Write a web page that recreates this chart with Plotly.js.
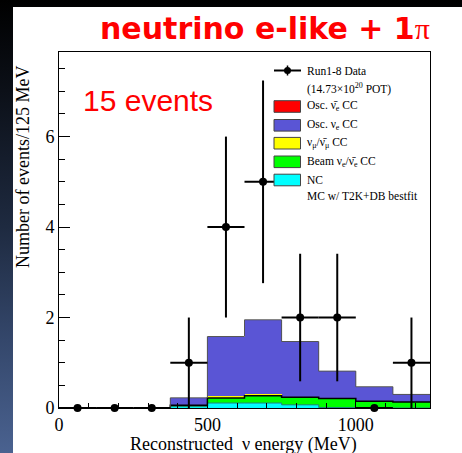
<!DOCTYPE html>
<html><head><meta charset="utf-8">
<script src="https://cdn.plot.ly/plotly-3.0.1.min.js"></script>
<style>
html,body{margin:0;padding:0;background:#000;}
#wrap{position:relative;width:462px;height:453px;overflow:hidden;
  background:linear-gradient(to bottom,#000 0%,#0c1018 20%,#1e2a40 50%,#34476b 75%,#4a6290 100%);}
#white{position:absolute;left:13px;top:7px;right:0;bottom:0;background:#fff;}
#chart{position:absolute;left:0;top:0;width:462px;height:453px;}
</style></head>
<body><div id="wrap"><div id="white"></div><div id="chart"></div></div>
<script>
// ---- data ----
const binCenters = [437.5, 562.5, 687.5, 812.5, 937.5, 1062.5, 1187.5];
const binEdges = [375, 500, 625, 750, 875, 1000, 1125, 1250];
const ncVals = [0.03, 0.11, 0.11, 0.07, 0.01, 0.0, 0.0];
const beamVals = [0.03, 0.11, 0.16, 0.17, 0.20, 0.15, 0.13];
const numuVals = [0.0, 0.05, 0.03, 0.01, 0.0, 0.0, 0.0];
const oscNueVals = [0.16, 1.30, 1.64, 1.21, 0.60, 0.32, 0.17];
const oscNuebarVals = [0.005, 0.01, 0.01, 0.01, 0.005, 0.0, 0.0];

const dataX = [62.5, 187.5, 312.5, 437.5, 562.5, 687.5, 812.5, 937.5, 1062.5, 1187.5];
const dataY = [0, 0, 0, 1, 4, 5, 2, 2, 0, 1];
const dataErr = [0, 0, 0, 1, 2, 2.24, 1.41, 1.41, 0, 1];

const xTickVals = [0, 500, 1000];
const yTickVals = [0, 2, 4, 6];

const legendLabels = [
  "Run1-8 Data",
  "(14.73×10<sup>20</sup> POT)",
  "Osc. ν̄<sub>e</sub> CC",
  "Osc. ν<sub>e</sub> CC",
  "ν<sub>μ</sub>/ν̄<sub>μ</sub> CC",
  "Beam ν<sub>e</sub>/ν̄<sub>e</sub> CC",
  "NC",
  "MC w/ T2K+DB bestfit"
];
const legendColors = [null, null, "#ff0000", "#5a55d5", "#ffff00", "#00ff00", "#00ffff", null];

// ---- build ----
const colNC = "#00ffff", colBeam = "#00ff00", colNumu = "#ffff00", colNue = "#5a55d5", colNuebar = "#ff0000";
const widths = binCenters.map(() => 125);
function barTrace(vals, color) {
  return {type: "bar", x: binCenters, y: vals, width: widths, marker: {color: color, line: {width: 0}},
          showlegend: false, hoverinfo: "skip"};
}
const traces = [
  barTrace(ncVals, colNC),
  barTrace(beamVals, colBeam),
  barTrace(numuVals, colNumu),
  barTrace(oscNueVals, colNue),
  barTrace(oscNuebarVals, colNuebar)
];
function cum(arrs) { return binCenters.map((_, i) => arrs.reduce((s, a) => s + a[i], 0)); }
function stepTrace(vals, color, w) {
  const xs = [binEdges[0]].concat(binEdges);
  const ys = [0].concat(vals).concat([vals[vals.length - 1]]);
  return {type: "scatter", mode: "lines", x: xs, y: ys, line: {shape: "hv", color: color, width: w},
          showlegend: false, hoverinfo: "skip"};
}
traces.push(stepTrace(cum([ncVals]), "#208080", 1));
traces.push(stepTrace(cum([ncVals, beamVals]), "#000000", 1.5));
traces.push(stepTrace(cum([ncVals, beamVals, numuVals, oscNueVals, oscNuebarVals]), "#555555", 1));
traces.push({
  type: "scatter", mode: "markers", x: dataX, y: dataY,
  marker: {color: "#000", size: 8},
  error_y: {type: "data", array: dataErr, color: "#000", thickness: 2, width: 0},
  error_x: {type: "constant", value: 62.5, color: "#000", thickness: 2, width: 0},
  showlegend: false, hoverinfo: "skip", cliponaxis: false
});

// pixel -> paper helpers
const L = 59, R = 430, B = 408, T = 52;
const pxX = x => (x - L) / (R - L);
const pxY = y => (B - y) / (B - T);

const serif = "Liberation Serif, Times New Roman, serif";
const annotations = [];
const shapes = [];
const legRows = [70.5, 88, 106.5, 125.3, 143.2, 161.8, 180, 196];
legendLabels.forEach((lab, i) => {
  annotations.push({xref: "paper", yref: "paper", x: pxX(305), y: pxY(legRows[i]), xanchor: "left", yanchor: "middle",
    text: lab, showarrow: false, font: {family: serif, size: 11.5, color: "#000"}});
  if (legendColors[i]) {
    shapes.push({type: "rect", xref: "paper", yref: "paper", x0: pxX(274), x1: pxX(300.5),
      y0: pxY(legRows[i] - 5.8), y1: pxY(legRows[i] + 5.8), fillcolor: legendColors[i],
      line: {color: "#444", width: 1}});
  }
});
// data legend symbol
shapes.push({type: "line", xref: "paper", yref: "paper", x0: pxX(274), x1: pxX(301), y0: pxY(legRows[0]), y1: pxY(legRows[0]),
  line: {color: "#000", width: 2}});
shapes.push({type: "line", xref: "paper", yref: "paper", x0: pxX(287.5), x1: pxX(287.5), y0: pxY(legRows[0] - 5), y1: pxY(legRows[0] + 5),
  line: {color: "#000", width: 1.5}});
shapes.push({type: "circle", xref: "paper", yref: "paper", x0: pxX(284), x1: pxX(291), y0: pxY(legRows[0] - 3.5), y1: pxY(legRows[0] + 3.5),
  fillcolor: "#000", line: {color: "#000", width: 0}});

// titles
annotations.push({xref: "paper", yref: "paper", x: pxX(265), y: pxY(29), xanchor: "center", yanchor: "middle",
  text: 'neutrino e-like + 1<span style="font-family:Liberation Serif;font-weight:normal">π</span>',
  showarrow: false, font: {family: "DejaVu Sans, Arial, sans-serif", size: 30, color: "#ff0000", weight: "bold"}});
annotations.push({xref: "paper", yref: "paper", x: pxX(81), y: pxY(100), xanchor: "left", yanchor: "middle",
  text: "15 events", showarrow: false, font: {family: "Liberation Sans, Arial, sans-serif", size: 30, color: "#ff0000"}});
annotations.push({xref: "paper", yref: "paper", x: pxX(23), y: pxY(167), xanchor: "center", yanchor: "middle",
  text: "Number of events/125 MeV", textangle: -90, showarrow: false, font: {family: serif, size: 18, color: "#000"}});
annotations.push({xref: "paper", yref: "paper", x: pxX(243), y: pxY(444), xanchor: "center", yanchor: "middle",
  text: "Reconstructed  ν energy (MeV)", showarrow: false, font: {family: serif, size: 18, color: "#000"}});

const layout = {
  width: 462, height: 453,
  margin: {l: L, r: 462 - R, t: T, b: 453 - B, pad: 0},
  paper_bgcolor: "rgba(0,0,0,0)", plot_bgcolor: "rgba(0,0,0,0)",
  barmode: "stack", bargap: 0, showlegend: false,
  xaxis: {range: [0, 1250], tickvals: xTickVals, ticktext: xTickVals.map(String), ticks: "inside", ticklen: 10, tickcolor: "#000",
    minor: {ticks: "inside", dtick: 100, tick0: 0, ticklen: 5, tickcolor: "#000"},
    showline: true, linecolor: "#000", linewidth: 1, mirror: true, showgrid: false, zeroline: false,
    tickfont: {family: serif, size: 18, color: "#000"}},
  yaxis: {range: [0, 7.87], tickvals: yTickVals, ticktext: yTickVals.map(String), ticks: "inside", ticklen: 11, tickcolor: "#000",
    minor: {ticks: "inside", dtick: 0.5, tick0: 0, ticklen: 6, tickcolor: "#000"},
    showline: true, linecolor: "#000", linewidth: 1, mirror: true, showgrid: false, zeroline: false,
    tickfont: {family: serif, size: 18, color: "#000"}},
  shapes: shapes,
  annotations: annotations
};
Plotly.newPlot("chart", traces, layout, {staticPlot: true, displayModeBar: false});
</script>
</body></html>
